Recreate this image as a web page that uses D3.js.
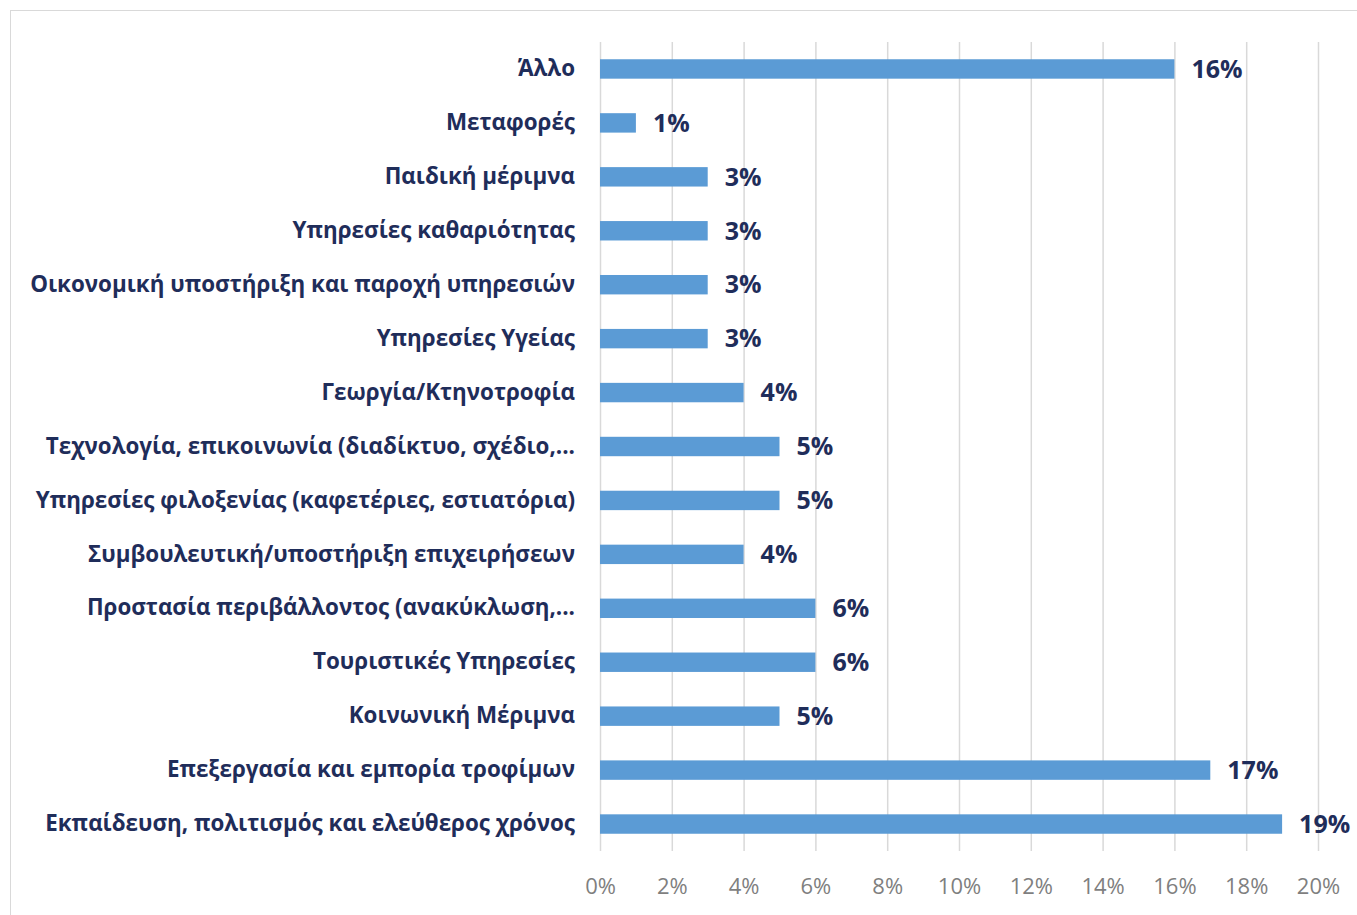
<!DOCTYPE html>
<html><head><meta charset="utf-8">
<script src="https://cdn.jsdelivr.net/npm/d3@7"></script>
<style>body{margin:0;background:#fff;} svg{display:block;}</style>
</head><body>
<svg id="chart" width="1357" height="915"></svg>
<script>
const categories = [
  "Άλλο",
  "Μεταφορές",
  "Παιδική μέριμνα",
  "Υπηρεσίες καθαριότητας",
  "Οικονομική υποστήριξη και παροχή υπηρεσιών",
  "Υπηρεσίες Υγείας",
  "Γεωργία/Κτηνοτροφία",
  "Τεχνολογία, επικοινωνία (διαδίκτυο, σχέδιο,...",
  "Υπηρεσίες φιλοξενίας (καφετέριες, εστιατόρια)",
  "Συμβουλευτική/υποστήριξη επιχειρήσεων",
  "Προστασία περιβάλλοντος (ανακύκλωση,...",
  "Τουριστικές Υπηρεσίες",
  "Κοινωνική Μέριμνα",
  "Επεξεργασία και εμπορία τροφίμων",
  "Εκπαίδευση, πολιτισμός και ελεύθερος χρόνος"
];
const values = [16, 1, 3, 3, 3, 3, 4, 5, 5, 4, 6, 6, 5, 17, 19];
const tickValues = [0, 2, 4, 6, 8, 10, 12, 14, 16, 18, 20];

const svg = d3.select("#chart");
// outer border
svg.append("rect").attr("x", 10.5).attr("y", 10.5).attr("width", 1357).attr("height", 915)
  .attr("fill", "none").attr("stroke", "#d9d9d9").attr("stroke-width", 1);

const x = d3.scaleLinear().domain([0, 20]).range([600, 1318]);
const y = d3.scaleBand().domain(categories).range([42, 851]).paddingInner(0.64).paddingOuter(0.32);

// gridlines
svg.append("g").selectAll("line").data(tickValues).join("line")
  .attr("x1", d => x(d) + 0.5).attr("x2", d => x(d) + 0.5)
  .attr("y1", 42).attr("y2", 851)
  .attr("stroke", "#d9d9d9").attr("stroke-width", 1.5);

// x tick labels
const xAxis = d3.axisBottom(x).tickValues(tickValues).tickFormat(d => d + "%").tickSize(0).tickPadding(0);
const gx = svg.append("g").attr("transform", "translate(0,886)").call(xAxis);
gx.select(".domain").remove();
gx.selectAll("text").attr("dy", "0.35em").attr("y", 0)
  .attr("font-family", "'Liberation Sans Narrow', 'Open Sans', sans-serif")
  .attr("font-size", 22).attr("fill", "#7f7f7f");

// bars
svg.append("g").selectAll("rect").data(values).join("rect")
  .attr("x", x(0)).attr("y", (d, i) => y(categories[i]))
  .attr("width", d => x(d) - x(0)).attr("height", y.bandwidth())
  .attr("fill", "#5b9bd5");

// category labels
const yAxis = d3.axisLeft(y).tickSize(0).tickPadding(25);
const gy = svg.append("g").attr("transform", `translate(${x(0)},0)`).call(yAxis);
gy.select(".domain").remove();
const labels = gy.selectAll("text")
  .attr("font-family", "'Liberation Sans Narrow', 'Open Sans', sans-serif")
  .attr("font-weight", "bold").attr("font-size", 22).attr("fill", "#1f2d5a");
// fit longest label to width observed
let maxW = 0;
labels.each(function(){ maxW = Math.max(maxW, this.getComputedTextLength()); });
const fs = 22 * 545 / maxW;
labels.attr("font-size", Math.min(fs, 26));

// value labels
svg.append("g").selectAll("text").data(values).join("text")
  .attr("x", d => x(d) + 17)
  .attr("y", (d, i) => y(categories[i]) + y.bandwidth() / 2)
  .attr("dy", "0.35em")
  .attr("font-family", "'Liberation Sans Narrow', 'Open Sans', sans-serif")
  .attr("font-weight", "bold").attr("font-size", 25).attr("fill", "#1f2d5a")
  .text(d => d + "%");
</script>
</body></html>
